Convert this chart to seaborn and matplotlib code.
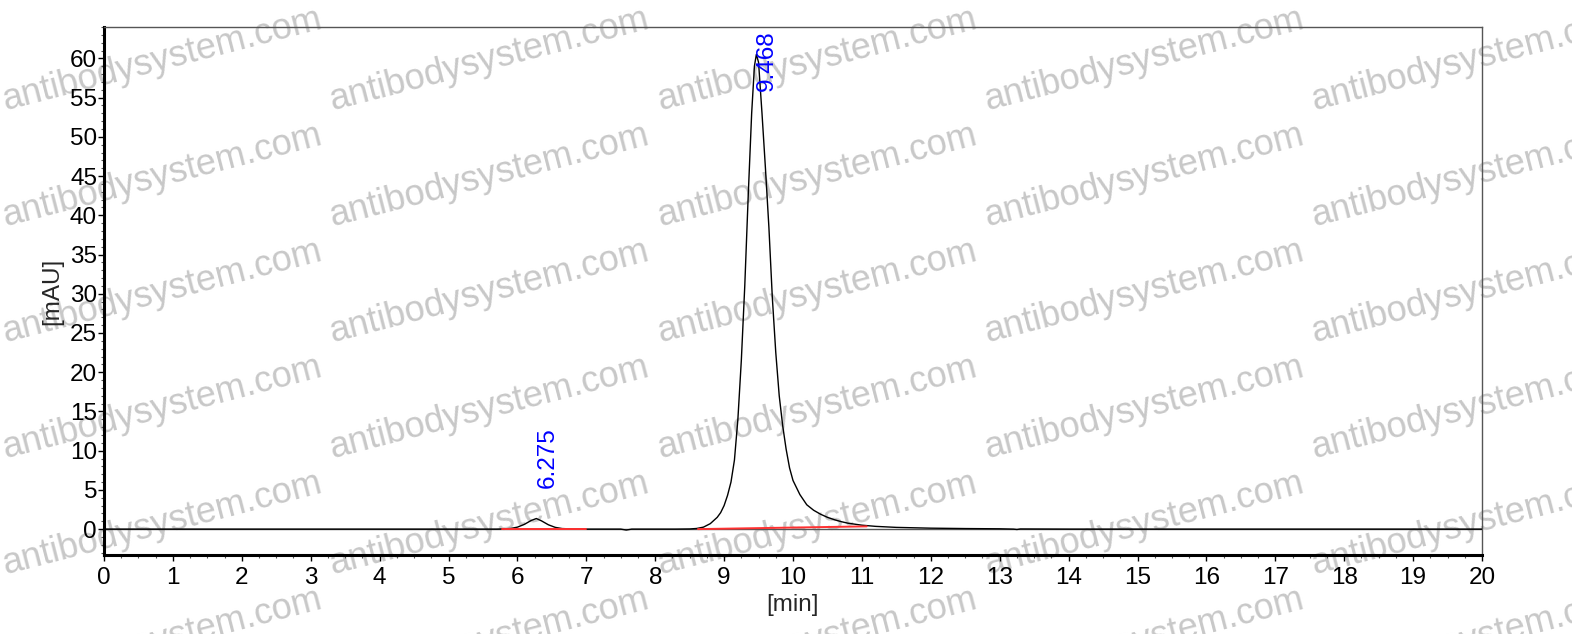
import matplotlib
matplotlib.use("Agg")
import matplotlib.pyplot as plt
from matplotlib.ticker import MultipleLocator
import seaborn as sns
import pandas as pd

# ---- data ----
time_min = [0.0, 5.70, 5.80, 5.90, 6.00, 6.10, 6.20, 6.275, 6.35, 6.45, 6.55, 6.65, 6.80, 7.00,
            7.50, 7.58, 7.66, 8.30, 8.50, 8.60, 8.70, 8.80, 8.90, 8.95, 9.00, 9.05, 9.10, 9.15,
            9.20, 9.25, 9.30, 9.35, 9.40, 9.44, 9.468, 9.50, 9.55, 9.60, 9.65, 9.70, 9.75, 9.80,
            9.85, 9.90, 9.95, 10.00, 10.10, 10.20, 10.30, 10.40, 10.50, 10.60, 10.70, 10.80,
            11.00, 11.20, 11.50, 12.00, 12.50, 13.00, 13.20, 13.25, 13.30, 14.00, 20.0]
signal_mau = [0.0, 0.0, 0.03, 0.08, 0.25, 0.60, 1.10, 1.35, 1.05, 0.55, 0.22, 0.07, 0.02, 0.0,
              0.0, -0.12, 0.0, 0.0, 0.02, 0.08, 0.25, 0.70, 1.50, 2.10, 3.00, 4.30, 6.00, 8.80,
              14.0, 21.5, 31.0, 42.5, 53.0, 59.0, 60.5, 59.5, 53.0, 46.0, 38.5, 29.5, 22.5, 17.0,
              13.2, 10.2, 7.8, 6.2, 4.4, 3.1, 2.4, 1.9, 1.5, 1.2, 0.95, 0.75,
              0.50, 0.35, 0.22, 0.12, 0.07, 0.04, 0.0, -0.05, 0.02, 0.0, 0.0]

baseline1_t = [5.78, 7.00]
baseline1_y = [0.0, 0.0]
baseline2_t = [8.62, 11.07]
baseline2_y = [0.0, 0.35]

peak_times = [6.275, 9.468]
peak_labels = ["6.275", "9.468"]
label_heights = [5.2, 55.8]

x_ticks = list(range(0, 21))
y_ticks = list(range(0, 61, 5))
watermark = "antibodysystem.com"

# ---- figure ----
sns.set_style("white")
plt.rcParams['font.family'] = ['Liberation Sans', 'DejaVu Sans']
FS = 17.5

fig = plt.figure(figsize=(15.72, 6.34), dpi=100)
ax = fig.add_axes([104/1572, 1 - 555/634, (1482-104)/1572, (555-27)/634])
ax.set_facecolor("none")
ax.set_zorder(2)

df = pd.DataFrame({"t": time_min, "y": signal_mau})
ax.axhline(0, color="#555555", lw=1.0, zorder=1)
sns.lineplot(data=df, x="t", y="y", ax=ax, color="black", lw=1.0, zorder=3, estimator=None, sort=False)
sns.lineplot(x=baseline1_t, y=baseline1_y, ax=ax, color="#ff3030", lw=1.4, zorder=4)
sns.lineplot(x=baseline2_t, y=baseline2_y, ax=ax, color="#ff3030", lw=1.4, zorder=4)

for t, lab, h in zip(peak_times, peak_labels, label_heights):
    ax.text(t, h, lab, rotation=90, color="#0000ff", fontsize=FS,
            ha="left", va="bottom", zorder=5)

ax.set_xlim(0, 20)
ax.set_ylim(-3.3, 64)
ax.set_xticks(x_ticks)
ax.set_yticks(y_ticks)
ax.xaxis.set_minor_locator(MultipleLocator(0.25))
ax.yaxis.set_minor_locator(MultipleLocator(1))
ax.tick_params(axis="both", which="major", direction="out", length=4, width=1,
               labelsize=FS, colors="black")
ax.tick_params(axis="x", which="major", pad=4.5)
ax.tick_params(axis="y", which="major", pad=1)
ax.tick_params(axis="both", which="minor", direction="out", length=2, width=0.8, colors="#555555")
ax.tick_params(axis="x", which="both", bottom=True)
ax.tick_params(axis="y", which="both", left=True)
ax.set_xlabel("[min]", fontsize=FS, labelpad=4)
ax.set_ylabel("[mAU]", fontsize=FS, labelpad=5)

for side in ["left", "bottom"]:
    ax.spines[side].set_color("black")
    ax.spines[side].set_linewidth(2.2)
for side in ["top", "right"]:
    ax.spines[side].set_color("#555555")
    ax.spines[side].set_linewidth(1.0)

# ---- watermark (behind the axes) ----
col_x = [5, 332, 660, 987, 1314]
row_y = [110, 226, 342, 458, 574, 690]
for cx in col_x:
    for ry in row_y:
        fig.text(cx / 1572, 1 - ry / 634, watermark, fontsize=26, color="#c8c8c8",
                 rotation=14.5, rotation_mode="anchor", ha="left", va="baseline", zorder=0)

fig.savefig("out.png", dpi=100)
